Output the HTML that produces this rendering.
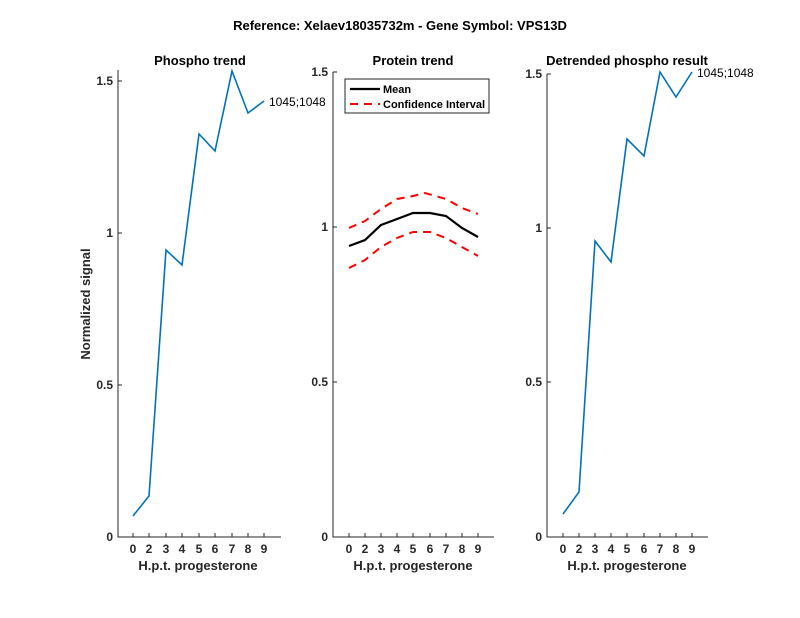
<!DOCTYPE html>
<html><head><style>body{margin:0;background:#fff}svg{display:block;font-family:"Liberation Sans",Arial,sans-serif}</style></head><body>
<svg width="800" height="618" viewBox="0 0 800 618" xmlns="http://www.w3.org/2000/svg">
<rect width="800" height="618" fill="#fff"/>
<text x="400" y="30" font-size="13" font-weight="bold" text-anchor="middle" fill="#000">Reference:  Xelaev18035732m - Gene Symbol:  VPS13D</text>
<g stroke="#262626" stroke-width="1" fill="none">
<!-- panel1 -->
<path d="M118 70V537H281"/>
<path d="M118 537h4M118 385h4M118 233h4M118 81h4"/>
<path d="M133 537v-4M149 537v-4M166 537v-4M182 537v-4M199 537v-4M215 537v-4M232 537v-4M248 537v-4M264 537v-4"/>
<!-- panel2 -->
<path d="M333 72V537H494"/>
<path d="M333 537h4M333 382h4M333 227h4M333 72h4"/>
<path d="M349 537v-4M365 537v-4M381 537v-4M397 537v-4M413 537v-4M430 537v-4M446 537v-4M462 537v-4M478 537v-4"/>
<!-- panel3 -->
<path d="M547 74V537H708"/>
<path d="M547 537h4M547 382h4M547 228h4M547 74h4"/>
<path d="M563 537v-4M579 537v-4M595 537v-4M611 537v-4M627 537v-4M644 537v-4M660 537v-4M676 537v-4M692 537v-4"/>
</g>
<g font-size="12" fill="#262626" font-weight="bold">
<g text-anchor="end"><text x="113" y="541">0</text><text x="113" y="389">0.5</text><text x="113" y="237">1</text><text x="113" y="85">1.5</text>
<text x="328" y="541">0</text><text x="328" y="386">0.5</text><text x="328" y="231">1</text><text x="328" y="76">1.5</text>
<text x="542" y="541">0</text><text x="542" y="386">0.5</text><text x="542" y="232">1</text><text x="542" y="78">1.5</text></g>
<g text-anchor="middle">
<text x="133" y="553">0</text><text x="149" y="553">2</text><text x="166" y="553">3</text><text x="182" y="553">4</text><text x="199" y="553">5</text><text x="215" y="553">6</text><text x="232" y="553">7</text><text x="248" y="553">8</text><text x="264" y="553">9</text>
<text x="349" y="553">0</text><text x="365" y="553">2</text><text x="381" y="553">3</text><text x="397" y="553">4</text><text x="413" y="553">5</text><text x="430" y="553">6</text><text x="446" y="553">7</text><text x="462" y="553">8</text><text x="478" y="553">9</text>
<text x="563" y="553">0</text><text x="579" y="553">2</text><text x="595" y="553">3</text><text x="611" y="553">4</text><text x="627" y="553">5</text><text x="644" y="553">6</text><text x="660" y="553">7</text><text x="676" y="553">8</text><text x="692" y="553">9</text>
</g></g>
<g font-size="13" font-weight="bold" fill="#262626" text-anchor="middle">
<text x="198" y="570">H.p.t. progesterone</text><text x="413" y="570">H.p.t. progesterone</text><text x="627" y="570">H.p.t. progesterone</text>
<text x="200" y="65" fill="#000">Phospho trend</text><text x="413" y="65" fill="#000">Protein trend</text><text x="627" y="65" fill="#000">Detrended phospho result</text>
<text transform="translate(90 304) rotate(-90)">Normalized signal</text>
</g>
<g fill="none" stroke="#0072BD" stroke-width="1.6">
<polyline points="133,516 149,496 166,250 182,265 199,134 215,151 232,71 248,113 264,101"/>
<polyline points="563,514 579,492 595,241 611,262 627,139 644,156 660,72 676,97 692,72"/>
</g>
<g font-size="12" fill="#000"><text x="269" y="106">1045;1048</text><text x="697" y="77">1045;1048</text></g>
<polyline points="349,246 365,240 381,225 397,219 413,213 430,213 446,216 462,228 478,237" fill="none" stroke="#000" stroke-width="2.2"/>
<g fill="none" stroke="#f00" stroke-width="2" stroke-dasharray="8,6">
<polyline points="349,228 365,221 381,209 397,199 413,196 425,193 446,199 462,208 478,214"/>
<polyline points="349,268 365,260 381,247 397,238 413,232 430,232 446,238 462,247 478,256"/>
</g>
<rect x="345" y="79" width="144" height="34" fill="#fff" stroke="#262626" stroke-width="1"/>
<line x1="350" y1="89" x2="380" y2="89" stroke="#000" stroke-width="2.2"/>
<line x1="350" y1="104" x2="380" y2="104" stroke="#f00" stroke-width="2" stroke-dasharray="8,6"/>
<g font-size="11" font-weight="bold" fill="#000"><text x="383" y="93">Mean</text><text x="383" y="108">Confidence Interval</text></g>
</svg>
</body></html>
